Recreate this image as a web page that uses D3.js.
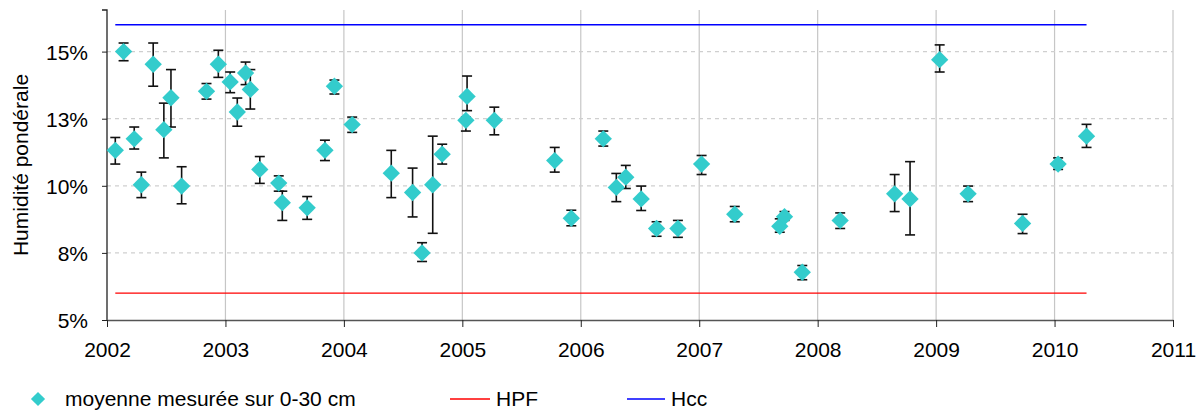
<!DOCTYPE html>
<html>
<head>
<meta charset="utf-8">
<script src="https://cdn.jsdelivr.net/npm/d3@7"></script>
<style>
  html, body { margin: 0; padding: 0; background: #fff; }
  svg { display: block; font-family: "Liberation Sans", Arial, sans-serif; }
</style>
</head>
<body>
<svg id="chart" width="1197" height="410"></svg>
<script>
// ---- data (humidity %, dates as decimal years) ----
const dates = [2002.07, 2002.14, 2002.23, 2002.29, 2002.39, 2002.48, 2002.54, 2002.63, 2002.84, 2002.94,
  2003.04, 2003.10, 2003.17, 2003.21, 2003.29, 2003.45, 2003.48, 2003.69, 2003.84, 2003.92,
  2004.07, 2004.40, 2004.58, 2004.66, 2004.75, 2004.83, 2005.04, 2005.03, 2005.27, 2005.78,
  2005.92, 2006.19, 2006.30, 2006.38, 2006.51, 2006.64, 2006.82, 2007.02, 2007.30, 2007.68,
  2007.72, 2007.87, 2008.19, 2008.65, 2008.78, 2009.03, 2009.27, 2009.73, 2010.03, 2010.27];
const means = [11.32, 15.00, 11.75, 10.04, 14.53, 12.09, 13.28, 9.99, 13.52, 14.53,
  13.87, 12.75, 14.20, 13.59, 10.61, 10.10, 9.37, 9.18, 11.32, 13.71,
  12.28, 10.47, 9.75, 7.50, 10.04, 11.18, 13.33, 12.44, 12.44, 10.94,
  8.79, 11.75, 9.94, 10.32, 9.51, 8.41, 8.41, 10.81, 8.94, 8.49,
  8.85, 6.78, 8.71, 9.70, 9.51, 14.70, 9.70, 8.60, 10.81, 11.85];
const upper = [11.80, 15.32, 12.19, 10.51, 15.32, 13.08, 14.33, 10.71, 13.81, 15.05,
  14.24, 13.27, 14.61, 14.33, 11.09, 10.37, 9.80, 9.60, 11.70, 13.94,
  12.56, 11.32, 10.66, 7.88, 11.85, 11.55, 14.09, 12.56, 12.93, 11.43,
  9.09, 12.04, 10.46, 10.76, 9.99, 8.66, 8.71, 11.13, 9.23, 8.77,
  9.04, 7.03, 8.99, 10.42, 10.90, 15.25, 9.99, 8.94, 11.04, 12.29];
const lower = [10.81, 14.66, 11.37, 9.56, 13.71, 11.04, 12.19, 9.33, 13.23, 14.04,
  13.47, 12.22, 13.77, 12.86, 10.09, 9.80, 8.71, 8.75, 10.94, 13.42,
  11.99, 9.56, 8.84, 7.18, 8.23, 10.81, 12.80, 12.04, 11.90, 10.51,
  8.51, 11.48, 9.41, 9.90, 9.08, 8.12, 8.08, 10.42, 8.66, 8.27,
  8.71, 6.50, 8.41, 9.04, 8.17, 14.24, 9.41, 8.22, 10.61, 11.43];
const refDates = [2002.07, 2010.27];
const hpf = [6.0, 6.0];
const hcc = [16.0, 16.0];
const xTicks = [2002, 2003, 2004, 2005, 2006, 2007, 2008, 2009, 2010, 2011];
const yTicks = [5, 7.5, 10, 12.5, 15];
const yTickLabels = ["5%", "8%", "10%", "13%", "15%"];
const seriesNames = ["moyenne mesurée sur 0-30 cm", "HPF", "Hcc"];

// ---- layout ----
const svg = d3.select("#chart");
const x = d3.scaleLinear().domain([2002, 2011]).range([107, 1173]);
const y = d3.scaleLinear().domain([5, 16.55]).range([320, 10]);
const FONT = 21;
const teal = "#33CCCC";

// vertical grid lines
svg.append("g").selectAll("line").data(xTicks.slice(1)).join("line")
  .attr("x1", d => x(d)).attr("x2", d => x(d))
  .attr("y1", y.range()[1]).attr("y2", y.range()[0])
  .attr("stroke", "#c6c6c6").attr("stroke-width", 1.2);

// horizontal dashed grid lines
svg.append("g").selectAll("line").data(yTicks.slice(1)).join("line")
  .attr("x1", x.range()[0]).attr("x2", x.range()[1])
  .attr("y1", d => y(d)).attr("y2", d => y(d))
  .attr("stroke", "#cfcfcf").attr("stroke-width", 1.2)
  .attr("stroke-dasharray", "4,4");

// axes
const yAxis = d3.axisLeft(y).tickValues(yTicks)
  .tickFormat((d, i) => yTickLabels[i]).tickSize(5).tickPadding(14);
const gy = svg.append("g").attr("transform", `translate(${x.range()[0]},0)`).call(yAxis);
gy.select(".domain").attr("stroke", "#222").attr("stroke-width", 1.3).attr("d", `M-5,${y.range()[1]}H0V${y.range()[0]}`);
gy.selectAll(".tick line").attr("stroke", "#222");
gy.selectAll("text").attr("font-size", FONT).attr("fill", "#000")
  .attr("font-family", "Liberation Sans, Arial, sans-serif").attr("dy", "0.36em");

const xAxis = d3.axisBottom(x).tickValues(xTicks).tickFormat(d3.format("d"))
  .tickSize(7).tickSizeOuter(0).tickPadding(15);
const gx = svg.append("g").attr("transform", `translate(0,${y.range()[0]})`).call(xAxis);
gx.select(".domain").attr("stroke", "#555").attr("stroke-width", 1.3);
gx.selectAll(".tick line").attr("stroke", "#222");
gx.selectAll("text").attr("font-size", FONT).attr("fill", "#000")
  .attr("font-family", "Liberation Sans, Arial, sans-serif");

// y axis title
svg.append("text")
  .attr("transform", `translate(28,${(y.range()[0] + y.range()[1]) / 2}) rotate(-90)`)
  .attr("text-anchor", "middle")
  .attr("font-size", FONT)
  .text("Humidité pondérale");

// reference lines
const line = d3.line().x(d => x(d[0])).y(d => y(d[1]));
svg.append("path").datum(refDates.map((d, i) => [d, hpf[i]]))
  .attr("d", line).attr("fill", "none").attr("stroke", "#FF0000").attr("stroke-width", 1.3);
svg.append("path").datum(refDates.map((d, i) => [d, hcc[i]]))
  .attr("d", line).attr("fill", "none").attr("stroke", "#0000FF").attr("stroke-width", 1.3);

// error bars
const pts = dates.map((d, i) => ({ d, m: means[i], hi: upper[i], lo: lower[i] }));
const eb = svg.append("g").attr("stroke", "#111").attr("stroke-width", 1.6);
const capW = 5;
pts.forEach(p => {
  eb.append("line").attr("x1", x(p.d)).attr("x2", x(p.d)).attr("y1", y(p.hi)).attr("y2", y(p.lo));
  eb.append("line").attr("x1", x(p.d) - capW).attr("x2", x(p.d) + capW).attr("y1", y(p.hi)).attr("y2", y(p.hi));
  eb.append("line").attr("x1", x(p.d) - capW).attr("x2", x(p.d) + capW).attr("y1", y(p.lo)).attr("y2", y(p.lo));
});

// diamonds
const diamond = d3.symbol().type(d3.symbolSquare).size(150);
svg.append("g").selectAll("path").data(pts).join("path")
  .attr("d", diamond)
  .attr("transform", p => `translate(${x(p.d)},${y(p.m)}) rotate(45)`)
  .attr("fill", teal);

// legend
const lg = svg.append("g");
lg.append("path").attr("d", d3.symbol().type(d3.symbolSquare).size(100))
  .attr("transform", "translate(38,399) rotate(45)").attr("fill", teal);
lg.append("text").attr("x", 65).attr("y", 406).attr("font-size", FONT).text(seriesNames[0]);
lg.append("line").attr("x1", 450).attr("x2", 490).attr("y1", 399).attr("y2", 399)
  .attr("stroke", "#FF0000").attr("stroke-width", 1.3);
lg.append("text").attr("x", 496).attr("y", 406).attr("font-size", FONT).text(seriesNames[1]);
lg.append("line").attr("x1", 627).attr("x2", 665).attr("y1", 399).attr("y2", 399)
  .attr("stroke", "#0000FF").attr("stroke-width", 1.3);
lg.append("text").attr("x", 671).attr("y", 406).attr("font-size", FONT).text(seriesNames[2]);
</script>
</body>
</html>
